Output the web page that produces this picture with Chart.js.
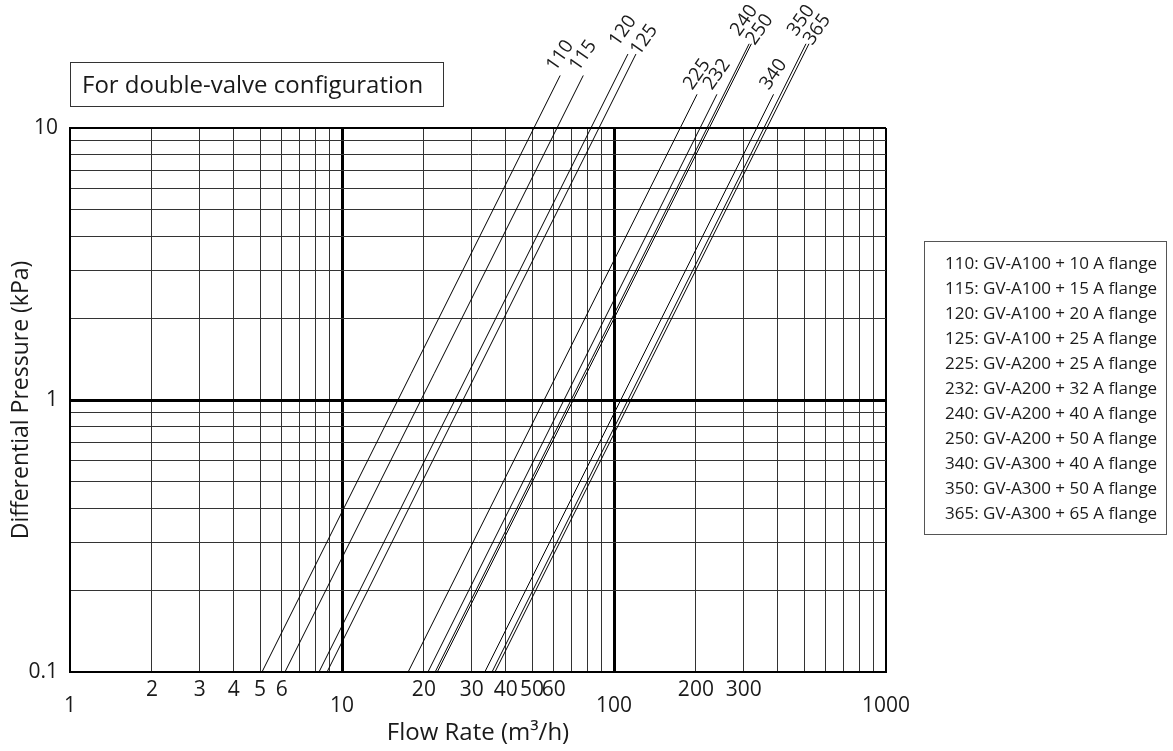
<!DOCTYPE html>
<html>
<head>
<meta charset="utf-8">
<script src="https://cdn.jsdelivr.net/npm/chart.js@4/dist/chart.umd.min.js"></script>
<style>
  body { margin: 0; background: #fff; font-family: 'Open Sans', sans-serif; color: #1a1a1a; }
  #wrap { position: relative; width: 1173px; height: 751px; }
  #note {
    position: absolute; left: 70px; top: 62px; width: 374px; height: 45px;
    box-sizing: border-box; border: 1px solid #333;
    padding-left: 11px; font-size: 24px; line-height: 42px; white-space: nowrap;
  }
  #legend {
    position: absolute; left: 924px; top: 241px; width: 243px; height: 294px;
    box-sizing: border-box; border: 1px solid #555;
    padding: 8px 0 0 20px; font-size: 17px; line-height: 25px; white-space: nowrap;
  }
</style>
</head>
<body>
<div id="wrap">
  <canvas id="flowChart"></canvas>
  <div id="note">For double-valve configuration</div>
  <div id="legend"></div>
</div>
<script>
// series (flow read where each line meets 0.1 kPa, and where it ends above the plot)
var seriesNames = ['110', '115', '120', '125', '225', '232', '240', '250', '340', '350', '365'];
var seriesInfo = ['GV-A100 + 10 A flange', 'GV-A100 + 15 A flange', 'GV-A100 + 20 A flange', 'GV-A100 + 25 A flange',
  'GV-A200 + 25 A flange', 'GV-A200 + 32 A flange', 'GV-A200 + 40 A flange', 'GV-A200 + 50 A flange',
  'GV-A300 + 40 A flange', 'GV-A300 + 50 A flange', 'GV-A300 + 65 A flange'];
var bottomPressure = 0.1;
var flowAtBottom = [5.08, 6.17, 8.23, 8.81, 17.5, 20.7, 22.0, 22.4, 33.5, 35.6, 36.5];
var flowAtTop = [63.4, 77.1, 112.5, 120.4, 202, 239, 314, 320, 386, 508, 521];
var pressureAtTop = [15.6, 15.6, 18.7, 18.7, 13.3, 13.3, 20.4, 20.4, 13.3, 20.4, 20.4];

// axes
var xGridValues = [1, 2, 3, 4, 5, 6, 7, 8, 9, 10, 20, 30, 40, 50, 60, 70, 80, 90,
  100, 200, 300, 400, 500, 600, 700, 800, 900, 1000];
var xMinorLabels = [2, 3, 4, 5, 6, 20, 30, 40, 50, 60, 200, 300];
var xMajorLabels = [1, 10, 100, 1000];
var yGridValues = [0.1, 0.2, 0.3, 0.4, 0.5, 0.6, 0.7, 0.8, 0.9, 1, 2, 3, 4, 5, 6, 7, 8, 9, 10];
var yLabels = [0.1, 1, 10];

document.getElementById('legend').innerHTML = seriesNames.map(function (n, i) {
  return '<div>' + n + ': ' + seriesInfo[i] + '</div>';
}).join('');

function isDecade(v) {
  var l = Math.log10(v);
  return Math.abs(l - Math.round(l)) < 1e-9;
}

// numbers at the upper end of every line
var lineLabels = {
  id: 'lineLabels',
  afterDatasetsDraw: function (chart) {
    var c = chart.ctx;
    var ends = chart.data.datasets.map(function (ds, i) {
      var pts = chart.getDatasetMeta(i).data;
      return pts[pts.length - 1];
    });
    c.save();
    c.font = '19px "Open Sans"';
    c.fillStyle = '#1a1a1a';
    c.textAlign = 'left';
    c.textBaseline = 'alphabetic';
    ends.forEach(function (p, i) {
      var lift = 6;
      var next = ends[i + 1], prev = ends[i - 1];
      // crowded pairs: first one up, second one down
      if (next && Math.abs(next.x - p.x) < 12 && Math.abs(next.y - p.y) < 12) lift = 12;
      else if (prev && Math.abs(prev.x - p.x) < 12 && Math.abs(prev.y - p.y) < 12) lift = -4;
      c.save();
      c.translate(p.x, p.y);
      c.rotate(-55 * Math.PI / 180);
      c.fillText(chart.data.datasets[i].label, 0, -lift);
      c.restore();
    });
    c.restore();
  }
};

var gridColor = function (c) { return isDecade(c.tick.value) ? '#000' : '#333'; };

var ctx = document.getElementById('flowChart');
var flowChart = new Chart(ctx, {
  type: 'line',
  data: {
    datasets: seriesNames.map(function (name, i) {
      return {
        label: name,
        data: [{ x: flowAtBottom[i], y: bottomPressure }, { x: flowAtTop[i], y: pressureAtTop[i] }],
        borderColor: '#000',
        borderWidth: 1,
        pointRadius: 0,
        fill: false,
        clip: false
      };
    })
  },
  options: {
    responsive: true,
    maintainAspectRatio: false,
    animation: false,
    layout: { padding: { top: 128, right: 287, bottom: 0, left: 0 } },
    plugins: {
      legend: { display: false },
      tooltip: { enabled: false }
    },
    scales: {
      x: {
        type: 'logarithmic',
        min: 1,
        max: 1000,
        afterBuildTicks: function (s) { s.ticks = xGridValues.map(function (v) { return { value: v }; }); },
        afterFit: function (s) { s.height = 79; },
        border: { color: '#000', width: 2 },
        grid: {
          drawTicks: false,
          color: gridColor,
          lineWidth: function (c) {
            var v = c.tick.value;
            if (v === 1 || v === 1000) return 2;
            return isDecade(v) ? 3 : 1;
          }
        },
        ticks: {
          autoSkip: false,
          maxRotation: 0,
          padding: 10,
          color: '#1a1a1a',
          font: { family: 'Open Sans', size: 21, lineHeight: 0.76 },
          callback: function (v) {
            if (xMajorLabels.indexOf(v) >= 0) return ['', String(v)];
            if (xMinorLabels.indexOf(v) >= 0) return String(v);
            return '';
          }
        },
        title: {
          display: true,
          text: 'Flow Rate (m³/h)',
          color: '#1a1a1a',
          font: { family: 'Open Sans', size: 24 },
          padding: { top: 0, bottom: 3 }
        }
      },
      y: {
        type: 'logarithmic',
        min: 0.1,
        max: 10,
        afterBuildTicks: function (s) { s.ticks = yGridValues.map(function (v) { return { value: v }; }); },
        afterFit: function (s) { s.width = 70; },
        border: { color: '#000', width: 2 },
        grid: {
          drawTicks: false,
          color: gridColor,
          lineWidth: function (c) {
            var v = c.tick.value;
            if (v === 0.1 || v === 10) return 2;
            return isDecade(v) ? 3 : 1;
          }
        },
        ticks: {
          autoSkip: false,
          padding: 12,
          color: '#1a1a1a',
          font: { family: 'Open Sans', size: 21 },
          callback: function (v) { return yLabels.indexOf(v) >= 0 ? String(v) : ''; }
        },
        title: {
          display: true,
          text: 'Differential Pressure (kPa)',
          color: '#1a1a1a',
          font: { family: 'Open Sans', size: 23 },
          padding: { top: 8, bottom: 0 }
        }
      }
    }
  },
  plugins: [lineLabels]
});
</script>
</body>
</html>
